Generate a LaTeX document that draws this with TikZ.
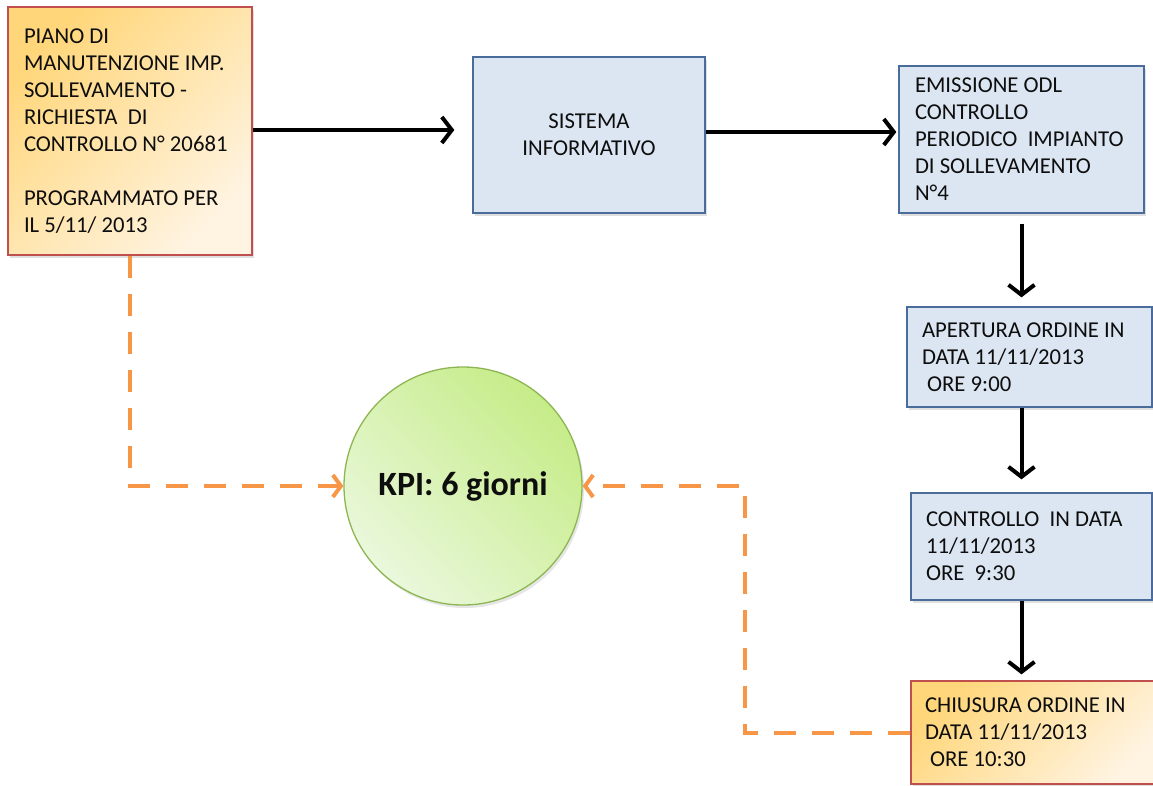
\documentclass[tikz,border=0pt]{standalone}
\usepackage{fontspec}
\setmainfont{Carlito}
\usetikzlibrary{arrows.meta,shadows}

\definecolor{boxblue}{HTML}{DCE6F2}
\definecolor{edgeblue}{HTML}{4A6C9B}
\definecolor{edgered}{HTML}{C0504D}
\definecolor{warmA}{HTML}{FFD67A}
\definecolor{warmB}{HTML}{FFF4E2}
\definecolor{greenA}{HTML}{C6EC88}
\definecolor{greenB}{HTML}{EAF8DC}
\definecolor{edgegreen}{HTML}{8DB653}
\definecolor{dashorange}{HTML}{F79646}
\definecolor{ink}{HTML}{0E0E0E}

\tikzset{
  boxtext/.style={font=\fontsize{22.7}{27}\selectfont, text=ink, align=flush left},
  bluebox/.style={boxtext, rectangle, draw=edgeblue, line width=1.3pt, fill=boxblue,
    drop shadow={opacity=0.25, shadow xshift=2pt, shadow yshift=-3pt}},
  warmbox/.style={boxtext, rectangle, draw=edgered, line width=1.3pt,
    top color=warmA, bottom color=warmB, shading angle=45,
    drop shadow={opacity=0.25, shadow xshift=2pt, shadow yshift=-3pt}},
  kpicircle/.style={circle, draw=edgegreen, line width=1.3pt,
    top color=greenA, bottom color=greenB, shading angle=-45,
    minimum size=238pt, inner sep=0pt,
    font=\fontsize{34}{40}\selectfont\bfseries, text=ink,
    drop shadow={opacity=0.2, shadow xshift=2pt, shadow yshift=-3pt}},
  flow/.style={line width=4pt, -{Straight Barb[length=10pt,width=26pt]}},
  kpilink/.style={line width=4pt, draw=dashorange, dash pattern=on 22pt off 16pt,
    -{Straight Barb[length=8pt,width=22pt]}},
}

\begin{document}
\begin{tikzpicture}[x={(1pt,0)}, y={(0,-1pt)}]
\useasboundingbox (0,0) rectangle (1153,785);

% planning request
\node[warmbox, text width=212pt, inner xsep=16pt, minimum height=248pt] (plan) at (130,131)
  {PIANO DI\\ MANUTENZIONE IMP.\\ SOLLEVAMENTO -\\ RICHIESTA~~DI\\ CONTROLLO N° 20681\\[27pt] PROGRAMMATO PER\\ IL 5/11/ 2013};

% information system
\node[bluebox, align=center, minimum width=232pt, minimum height=156pt] (sys) at (589,135)
  {SISTEMA\\ INFORMATIVO};

% work order steps
\node[bluebox, text width=213pt, inner xsep=16pt, minimum height=147pt] (odl) at (1021.5,139.5)
  {EMISSIONE ODL\\ CONTROLLO\\ PERIODICO~~IMPIANTO\\ DI SOLLEVAMENTO\\ N°4};
\node[bluebox, text width=215pt, inner xsep=15pt, minimum height=100pt] (open) at (1029.5,357)
  {APERTURA ORDINE IN\\ DATA 11/11/2013\\ \ ORE 9:00};
\node[bluebox, text width=211pt, inner xsep=15pt, minimum height=107pt] (check) at (1031.5,546.5)
  {CONTROLLO~~IN DATA\\ 11/11/2013\\ ORE~~9:30};
\node[warmbox, text width=221pt, inner xsep=14pt, minimum height=103pt] (close) at (1035.5,732.5)
  {CHIUSURA ORDINE IN\\ DATA 11/11/2013\\ \ ORE 10:30};

% indicator
\node[kpicircle] (kpi) at (463,486) {KPI: 6 giorni};

% main flow
\draw[flow, shorten >=18pt] (plan.east |- 0,130) -- (sys.west |- 0,130);
\draw[flow, shorten >=2pt] (sys.east |- 0,132) -- (odl.west |- 0,132);
\draw[flow, shorten <=10pt, shorten >=9pt] (odl.south) -- (odl.south |- open.north);
\draw[flow, shorten >=13pt] (odl.south |- open.south) -- (odl.south |- check.north);
\draw[flow, shorten >=6pt] (odl.south |- check.south) -- (odl.south |- close.north);

% KPI measurement links
\coordinate (turn) at (745,600);
\draw[kpilink] (plan.south) |- (kpi.west);
\draw[kpilink] (close.west) -| (turn) |- (kpi.east);
\end{tikzpicture}
\end{document}
